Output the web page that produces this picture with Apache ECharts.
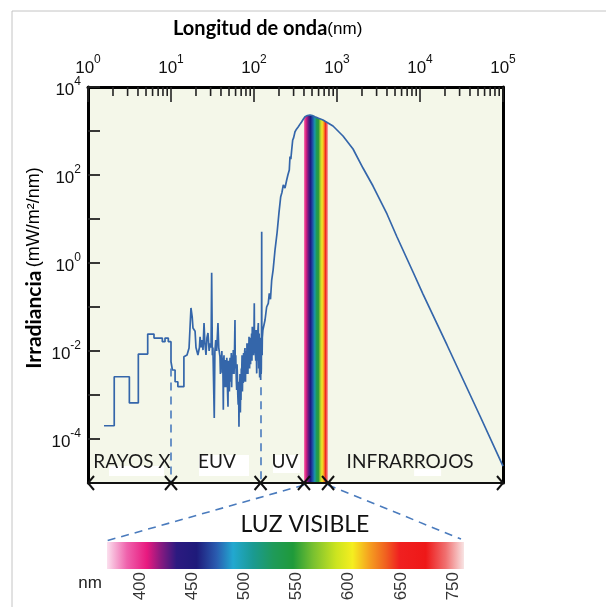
<!DOCTYPE html>
<html><head><meta charset="utf-8">
<script src="https://cdn.jsdelivr.net/npm/echarts@6/dist/echarts.min.js"></script>
<style>html,body{margin:0;padding:0;background:#fff}#c{width:606px;height:607px}</style>
</head><body><div id="c"></div>
<script>
// ---------- data ----------
const xrayNm  = [1.56,2.07,2.07,3.15,3.15,4.04,4.04,5.24,5.24,6.24,6.24,7.86,7.86,8.47,8.47,9.28,9.28,10,10,10.4,10.4,11.2,11.2,12.1,12.1,14.3];
const xrayIrr = [2.0e-4,2.0e-4,2.6e-3,2.6e-3,6.6e-4,6.6e-4,8.5e-3,8.5e-3,0.0243,0.0243,0.0197,0.0197,0.0163,0.0163,0.0197,0.0197,0.0163,0.0163,5.7e-3,5.7e-3,3.7e-3,3.7e-3,2.0e-3,2.0e-3,1.55e-3,1.55e-3];

// EUV: [nm, irradiance]
const euvPoints = [
 [14.3,7.4e-3],[15.6,8.1e-3],[16.5,0.0117],[17.0,0.0117],[17.4,0.095],[18.0,0.06],[18.4,0.0333],[19.0,0.03],[19.5,0.028],[20.0,0.012],
 [20.6,0.0117],[21.1,8.1e-3],[22.0,0.012],[22.4,0.0211],[23.0,0.012],[23.6,0.0178],[24.3,0.0105],[25.0,0.0433],[25.6,0.015],[26.4,8.1e-3],
 [27.1,0.02],[27.9,0.0256],[28.8,0.01],[29.5,0.015],[30.4,0.012],[30.9,0.6],[31.5,0.008],[32.0,0.012],[33.2,3.0e-4],[33.8,0.01],
 [34.6,0.0178],[35.5,0.01],[36.8,0.0433],[37.6,0.012],[38.9,7.4e-3],[39.4,0.003],[39.8,0.008],[40.5,0.004],[41.0,0.01],[41.5,3.2e-3],
 [42.0,0.007],[42.4,0.002],[42.7,4.6e-4],[43.1,0.006],[43.5,0.008],[44.0,0.002],[44.3,0.005],[45.0,0.0015],[45.6,6.2e-3],[46.0,0.002],
 [46.5,0.0015],[47.0,0.007],[47.3,0.005],[48.0,0.0012],[48.6,5.4e-4],[49.0,0.004],[49.5,0.006],[50.0,0.002],[50.5,0.0012],[51.0,0.005],
 [51.5,0.007],[52.2,0.002],[52.8,4.4e-3],[53.3,0.009],[53.8,0.0015],[54.4,0.006],[55.0,0.008],[55.6,0.003],[56.3,0.0105],[56.9,0.004],
 [57.5,0.003],[58.2,0.009],[59.0,0.0507],[59.4,0.006],[59.8,0.004],[60.3,0.008],[60.8,0.0035],[61.3,0.002],[61.9,1.3e-3],[62.5,0.005],
 [63.0,0.003],[63.8,0.001],[64.5,6e-4],[65.2,0.002],[65.9,1.9e-4],[66.5,0.0015],[67.0,0.001],[67.8,0.003],[68.5,4e-4],[69.1,0.002],
 [69.7,7.7e-4],[70.3,0.004],[71.0,0.003],[71.8,0.008],[72.5,0.0012],[73.4,0.005],[74.3,1.87e-3],[74.9,0.009],[75.5,0.006],[76.0,0.002],
 [76.5,0.003],[77.2,0.01],[77.9,0.0117],[78.5,0.003],[79.0,0.002],[79.6,0.01],[80.2,0.008],[80.9,0.003],[81.6,4.4e-3],[82.3,0.015],
 [83.0,0.012],[83.7,0.004],[84.5,0.003],[85.2,0.012],[86.0,0.015],[86.5,0.006],[87.1,0.0211],[87.8,0.008],[88.5,0.004],[89.2,0.015],
 [90.0,0.02],[90.5,0.006],[91.0,0.005],[91.5,0.018],[92.0,7.4e-3],[92.7,0.012],[93.5,0.025],[94.0,0.008],[94.5,0.006],[95.0,0.02],
 [95.4,0.0356],[96.0,0.01],[96.5,0.008],[97.2,0.025],[98.0,0.03],[98.7,0.008],[99.5,0.01],[100.2,0.04],[100.8,0.121],[101.4,0.015],
 [102.0,0.01],[102.7,0.03],[103.5,0.02],[104.2,0.008],[105.0,0.006],[105.7,0.02],[106.5,0.03],[107.2,0.006],[107.8,3.1e-3],[108.4,0.015],
 [109.0,0.02],[109.7,0.008],[110.5,0.006],[111.5,0.03],[112.7,0.0433],[113.3,0.01],[114.0,0.004],[114.8,0.02],[115.5,0.025],[116.2,0.005],
 [117.0,0.0025],[117.7,0.02],[118.5,0.015],[119.4,0.004],[120.4,2.2e-3],[121.0,0.012],[121.5,0.01],[122.0,0.003],[122.5,0.004],[123.2,0.02],
 [123.8,5.1],[124.2,0.03],[124.6,0.03],[125.3,0.008],[126.0,0.02]
];

const uvIrNm  = [128,135.8,142,148.6,152.8,158,163.4,170,179.1,190,200,209.8,217,225.4,236.2,247.7,256,266.2,271.5,278,284.5,292.6,300,311.9,325,342,360,375.6,392,411.4,440,473,505,543,600,678,895,1181,1560,2056,2716,4002,5285,8240,10870,21150,30340,52840,100000];
const uvIrIrr = [0.03,0.0507,0.1,0.121,0.205,0.15,0.41,0.7,1.97,5,14,32.1,40,59.3,50.7,76.9,100,130,261,230,370,624,700,964,1100,1253,1450,1627,1850,2113,2250,2310,2250,2113,1950,1778,1300,770,390,144,56.2,13.0,3.90,0.624,0.197,0.0137,3.16e-3,3.33e-4,2.43e-5];

// visible band (its top follows the curve)
const bandNm  = [400,411.4,440,473,505,543,600,678,780];
const bandTop = [2050,2113,2250,2310,2250,2113,1950,1778,1560];

// region boundaries on the bottom arrow line
const regionBounds = [1,10,120,400,780,100000];
const regionNames  = ['RAYOS X','EUV','UV','INFRARROJOS'];
const regionNameNm = [3.39,35.8,236,7600];
const regionNameIrr = [3.0e-5,3.0e-5,3.0e-5,3.0e-5];

// dashed region separators
const sepNm  = [10,120];
const sepTop = [4.0e-3,1.5e-3];

const specLabels = ['400','450','500','550','600','650','750'];

// ---------- chart ----------
const Y_MIN = 1e-5, Y_MAX = 1e4, X_MIN = 1, X_MAX = 1e5;
const curve = [];
xrayNm.forEach((v, i) => curve.push([v, xrayIrr[i]]));
euvPoints.forEach(p => curve.push(p));
uvIrNm.forEach((v, i) => curve.push([v, uvIrIrr[i]]));

const minorTickNm = [];
for (let d = 0; d < 5; d++) for (let k = 2; k <= 9; k++) minorTickNm.push(k * Math.pow(10, d));

const TICKFONT = 'Liberation Sans, Arial, sans-serif';
const TXTFONT = 'Lato, sans-serif';
const expRich = {
  b: {fontFamily: TICKFONT, fontSize: 17, color: '#111', lineHeight: 23, verticalAlign: 'bottom'},
  s: {fontFamily: TICKFONT, fontSize: 12, color: '#111', lineHeight: 12, verticalAlign: 'top'}
};
const lineColor = '#3466aa';
const dashColor = '#4a7bbd';

const chart = echarts.init(document.getElementById('c'));
chart.setOption({
  animation: false,
  backgroundColor: '#fff',
  title: {
    text: '{b|Longitud de onda}{r|(nm)}',
    left: 168, top: 14,
    textStyle: {rich: {
      b: {fontFamily: TXTFONT, fontWeight: 'bold', fontSize: 20, color: '#000'},
      r: {fontFamily: TICKFONT, fontWeight: 'normal', fontSize: 17, color: '#000'}
    }}
  },
  grid: [
    {left: 88, top: 87, width: 415, height: 396, show: true, backgroundColor: '#f4f7e9', borderWidth: 0},
    {left: 140, top: 568, width: 313, height: 1}
  ],
  xAxis: [
    {type: 'log', logBase: 10, min: X_MIN, max: X_MAX, position: 'top', gridIndex: 0, splitNumber: 5,
     axisLine: {show: true, lineStyle: {color: '#000', width: 3}},
     axisTick: {show: true, inside: true, length: 15, lineStyle: {color: '#222', width: 1.6}},
     axisLabel: {margin: 10, formatter: v => '{b|10}{s|' + Math.round(Math.log10(v)) + '}', rich: expRich},
     splitLine: {show: false}, minorTick: {show: false}},
    {type: 'category', gridIndex: 1, data: specLabels, boundaryGap: false,
     axisLine: {show: false}, axisTick: {show: false},
     axisLabel: {rotate: 90, margin: 3, fontFamily: TICKFONT, fontSize: 17, color: '#333'}}
  ],
  yAxis: [
    {type: 'log', logBase: 10, min: Y_MIN, max: Y_MAX, gridIndex: 0, splitNumber: 10,
     axisLine: {show: true, lineStyle: {color: '#000', width: 3}},
     axisTick: {show: true, inside: true, length: 12, lineStyle: {color: '#222', width: 1.8}},
     axisLabel: {margin: 7, formatter: v => {
        const e = Math.round(Math.log10(v));
        if (e % 2 !== 0 || e <= -5) return '';
        return '{b|10}{s|' + e + '}';
     }, rich: expRich},
     splitLine: {show: false}},
    {type: 'log', logBase: 10, min: Y_MIN, max: Y_MAX, gridIndex: 0, position: 'right',
     axisLine: {show: true, lineStyle: {color: '#000', width: 3}},
     axisTick: {show: false}, axisLabel: {show: false}, splitLine: {show: false}},
    {type: 'value', gridIndex: 1, show: false}
  ],
  series: [
    { // visible band
      type: 'custom', xAxisIndex: 0, yAxisIndex: 0, z: 2, silent: true, clip: true,
      data: [[bandNm[0], bandTop[0]]],
      renderItem: (params, api) => {
        const pts = [];
        bandNm.forEach((nm, i) => pts.push(api.coord([nm, bandTop[i]])));
        for (let i = bandNm.length - 1; i >= 0; i--) pts.push(api.coord([bandNm[i], Y_MIN]));
        return {type: 'polygon', shape: {points: pts}, style: {fill: new echarts.graphic.LinearGradient(0, 0, 1, 0, [
          {offset: 0, color: '#f27ab4'}, {offset: 0.08, color: '#e0207f'}, {offset: 0.18, color: '#6a1a80'},
          {offset: 0.27, color: '#1c1a80'}, {offset: 0.36, color: '#1e50a8'}, {offset: 0.45, color: '#1a98a8'},
          {offset: 0.52, color: '#1f9a58'}, {offset: 0.6, color: '#2a9a3a'}, {offset: 0.68, color: '#a8cc30'},
          {offset: 0.75, color: '#f2ea28'}, {offset: 0.82, color: '#f7a020'}, {offset: 0.9, color: '#f02020'},
          {offset: 1, color: '#f6b0b0'}])}};
      }
    },
    { // spectrum curve
      type: 'line', xAxisIndex: 0, yAxisIndex: 0, z: 3, data: curve, showSymbol: false, symbol: 'none',
      lineStyle: {color: lineColor, width: 1.7}, clip: true, silent: true,
      markLine: {silent: true, symbol: ['none', 'none'], label: {show: false},
        lineStyle: {color: dashColor, width: 1.6, type: [8, 6]},
        data: sepNm.map((nm, i) => [{coord: [nm, sepTop[i]]}, {coord: [nm, Y_MIN]}])}
    },
    { // bottom arrow line with region boundaries
      type: 'custom', xAxisIndex: 0, yAxisIndex: 0, z: 5, silent: true, clip: false,
      data: regionBounds.map(b => [b, Y_MIN]),
      renderItem: (params, api) => {
        const i = params.dataIndex;
        const p = api.coord([regionBounds[i], Y_MIN]);
        const st = {stroke: '#111', lineWidth: 2, fill: 'none'};
        const ch = [];
        if (i < regionBounds.length - 1) {
          const q = api.coord([regionBounds[i + 1], Y_MIN]);
          ch.push({type: 'line', shape: {x1: p[0], y1: p[1], x2: q[0], y2: q[1]}, style: st});
          ch.push({type: 'polyline', shape: {points: [[p[0] + 6, p[1] - 7], [p[0], p[1]], [p[0] + 6, p[1] + 7]]}, style: st});
        }
        if (i > 0) ch.push({type: 'polyline', shape: {points: [[p[0] - 6, p[1] - 7], [p[0], p[1]], [p[0] - 6, p[1] + 7]]}, style: st});
        return {type: 'group', children: ch};
      }
    },
    { // minor ticks of the top axis
      type: 'custom', xAxisIndex: 0, yAxisIndex: 0, z: 5, silent: true, clip: false,
      data: minorTickNm.map(v => [v, Y_MAX]),
      renderItem: (params, api) => {
        const p = api.coord([minorTickNm[params.dataIndex], Y_MAX]);
        return {type: 'line', shape: {x1: p[0], y1: p[1], x2: p[0], y2: p[1] + 9}, style: {stroke: '#222', lineWidth: 1.6}};
      }
    },
    { // region names
      type: 'custom', xAxisIndex: 0, yAxisIndex: 0, z: 6, silent: true, clip: false,
      data: regionNameNm.map((v, i) => [v, regionNameIrr[i]]),
      renderItem: (params, api) => {
        const i = params.dataIndex;
        const p = api.coord([regionNameNm[i], regionNameIrr[i]]);
        const patch = [[-23, 4, 55, 10], [-18, -7, 50, 21], [-12, -7, 27, 18], [4, 7, 27, 7]][i];
        return {type: 'group', children: [
          {type: 'rect', shape: {x: p[0] + patch[0], y: p[1] + patch[1], width: patch[2], height: patch[3]}, style: {fill: '#fff'}},
          {type: 'text', x: p[0], y: p[1], style: {text: regionNames[i], fill: '#1a1a1a', font: '19px ' + TXTFONT, align: 'center', verticalAlign: 'middle'}}
        ]};
      }
    }
  ]
});

// ---------- decorations anchored on the chart's own scale ----------
const pA = chart.convertToPixel({seriesIndex: 1}, [regionBounds[3], Y_MIN]);
const pB = chart.convertToPixel({seriesIndex: 1}, [regionBounds[4], Y_MIN]);
const dash = {stroke: dashColor, lineWidth: 1.6, lineDash: [8, 6]};
chart.setOption({graphic: [
  {type: 'line', shape: {x1: 12, y1: 11, x2: 606, y2: 11}, style: {stroke: '#c4c4c4', lineWidth: 1}},
  {type: 'line', shape: {x1: 12, y1: 11, x2: 12, y2: 607}, style: {stroke: '#c4c4c4', lineWidth: 1}},
  {type: 'line', z: 1, shape: {x1: pA[0], y1: pA[1] + 2, x2: 106, y2: 541}, style: dash},
  {type: 'line', z: 1, shape: {x1: pB[0], y1: pB[1] + 2, x2: 461, y2: 539}, style: dash},
  {type: 'rect', shape: {x: 107, y: 542, width: 357, height: 27}, style: {fill: new echarts.graphic.LinearGradient(0, 0, 1, 0, [
    {offset: 0, color: '#fbe0ee'}, {offset: 0.056, color: '#ef62ac'}, {offset: 0.112, color: '#e8197f'},
    {offset: 0.15, color: '#8a1a80'}, {offset: 0.195, color: '#2c1a80'}, {offset: 0.251, color: '#1e1a7a'},
    {offset: 0.307, color: '#2a5cb0'}, {offset: 0.353, color: '#22a8d0'}, {offset: 0.409, color: '#1a9a92'},
    {offset: 0.465, color: '#1f9a5a'}, {offset: 0.521, color: '#1f9a3a'}, {offset: 0.577, color: '#78c030'},
    {offset: 0.642, color: '#cce420'}, {offset: 0.688, color: '#f5ee20'}, {offset: 0.735, color: '#f5a020'},
    {offset: 0.781, color: '#f06020'}, {offset: 0.819, color: '#f02020'}, {offset: 0.893, color: '#ee1818'},
    {offset: 0.949, color: '#f07070'}, {offset: 1, color: '#f8e4e4'}])}},
  {type: 'text', x: 305, y: 525, style: {text: 'LUZ VISIBLE', font: '23px ' + TXTFONT, fill: '#111', align: 'center', verticalAlign: 'middle'}},
  {type: 'text', x: 90, y: 583, style: {text: 'nm', font: '17px ' + TICKFONT, fill: '#222', align: 'center', verticalAlign: 'middle'}},
  {type: 'text', x: 34, y: 268, rotation: Math.PI / 2, style: {
    text: '{b|Irradiancia} {r|(mW/m²/nm)}', align: 'center', verticalAlign: 'middle',
    rich: {b: {fontFamily: TXTFONT, fontWeight: 'bold', fontSize: 21, fill: '#000'},
           r: {fontFamily: TICKFONT, fontSize: 18, fill: '#000'}}}}
]});
</script></body></html>
